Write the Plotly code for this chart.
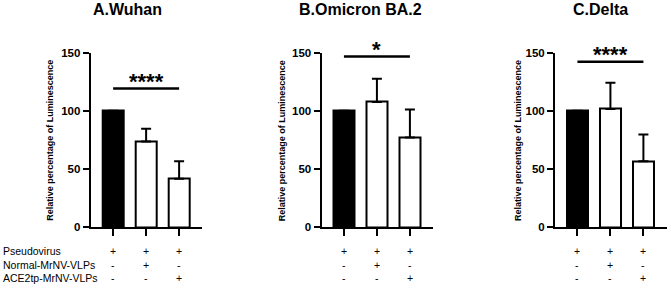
import plotly.graph_objects as go

W, H = 669, 285

panels = ["A.Wuhan", "B.Omicron BA.2", "C.Delta"]
categories = [0, 1, 2]
means_A = [100, 73.5, 41.5]
err_A = [0, 11, 15]
means_B = [100, 107.5, 77]
err_B = [0, 20, 24]
means_C = [100, 101.5, 56.5]
err_C = [0, 22.5, 23]
sig_labels = ["****", "*", "****"]
sig_y = [119, 146.5, 142]
yticks = [0, 50, 100, 150]
row_labels = ["Pseudovirus", "Normal-MrNV-VLPs", "ACE2tp-MrNV-VLPs"]
row_signs = [["+", "+", "+"], ["-", "+", "-"], ["-", "-", "+"]]
ytitle = "Relative percentage of Luminescence"

means = [means_A, means_B, means_C]
errs = [err_A, err_B, err_C]

FONT = "Liberation Sans, Arial"

def fx(px):
    return px / W

def fy(py):
    return 1 - py / H

# pixel layout of each panel (left edge of y axis)
axis_left = [90.7, 321.5, 555.0]
dom_w = 111.5
y_bottom, y_top = 227.0, 52.5
title_cx = [127.5, 360.3, 600.3]
ytitle_dx = [41.5, 39.8, 37.5]
row_py = [251, 265, 278]

fig = go.Figure()
annotations = []
shapes = []

for i in range(3):
    xa = "x" if i == 0 else f"x{i+1}"
    ya = "y" if i == 0 else f"y{i+1}"
    fig.add_trace(go.Bar(
        x=categories, y=means[i], width=0.65,
        marker=dict(color=["black", "white", "white"],
                    line=dict(color="black", width=2)),
        error_y=dict(type="data", symmetric=False, array=errs[i],
                     arrayminus=[0, 0, 0], color="black",
                     thickness=2, width=5),
        xaxis=xa, yaxis=ya, showlegend=False, hoverinfo="skip",
    ))
    xkey = "xaxis" if i == 0 else f"xaxis{i+1}"
    ykey = "yaxis" if i == 0 else f"yaxis{i+1}"
    fig.update_layout(**{
        xkey: dict(domain=[fx(axis_left[i]), fx(axis_left[i] + dom_w)],
                   range=[-0.68, 2.7], anchor=ya, automargin=False,
                   showline=True, linecolor="black", linewidth=2,
                   ticks="outside", tickvals=categories, ticklen=7,
                   tickwidth=2, tickcolor="black", showticklabels=False,
                   showgrid=False, zeroline=False, fixedrange=True),
        ykey: dict(domain=[fy(y_bottom), fy(y_top)], range=[0, 150],
                   anchor=xa, automargin=False, showline=True,
                   linecolor="black", linewidth=2, ticks="outside",
                   tickvals=yticks,
                   ticktext=[f"<b>{v}</b>" for v in yticks],
                   ticklen=6, tickwidth=2, tickcolor="black",
                   tickfont=dict(family=FONT, size=11.5, color="black",
                                 weight="bold"),
                   showgrid=False, zeroline=False, fixedrange=True),
    })
    # significance line
    shapes.append(dict(type="line", xref=xa, yref=ya, x0=0, x1=2,
                       y0=sig_y[i], y1=sig_y[i],
                       line=dict(color="black", width=2.5)))
    annotations.append(dict(text=f"<b>{sig_labels[i]}</b>", xref=xa, yref=ya,
                            x=1, y=sig_y[i], yshift=-7, showarrow=False,
                            xanchor="center", yanchor="bottom",
                            font=dict(family=FONT, size=22, color="black")))
    # title
    annotations.append(dict(text=f"<b>{panels[i]}</b>", xref="paper",
                            yref="paper", x=fx(title_cx[i]), y=fy(9.5),
                            showarrow=False, xanchor="center",
                            yanchor="middle",
                            font=dict(family=FONT, size=16, color="black")))
    # y title
    annotations.append(dict(text=f"<b>{ytitle}</b>", xref="paper",
                            yref="paper",
                            x=fx(axis_left[i] - ytitle_dx[i]),
                            y=fy(140.5), textangle=-90, showarrow=False,
                            xanchor="center", yanchor="middle",
                            font=dict(family=FONT, size=9, color="black")))
    # +/- table
    for r in range(3):
        for c in range(3):
            annotations.append(dict(text=row_signs[r][c], xref=xa,
                                    yref="paper", x=categories[c],
                                    y=fy(row_py[r]), showarrow=False,
                                    xanchor="center", yanchor="middle",
                                    font=dict(family=FONT, size=10.5,
                                              color="black")))

for r in range(3):
    annotations.append(dict(text=row_labels[r], xref="paper", yref="paper",
                            x=fx(0.5), y=fy(row_py[r]), showarrow=False,
                            xanchor="left", yanchor="middle",
                            font=dict(family=FONT, size=10.5, color="black")))

fig.update_layout(template="none", width=W, height=H,
                  margin=dict(l=0, r=0, t=0, b=0, autoexpand=False),
                  paper_bgcolor="white", plot_bgcolor="white",
                  annotations=annotations, shapes=shapes, bargap=0,
                  hovermode=False)

fig.write_html("out.html", config={"displayModeBar": False},
               post_script="document.body.style.margin='0';"
                           "document.body.style.overflow='hidden';")
